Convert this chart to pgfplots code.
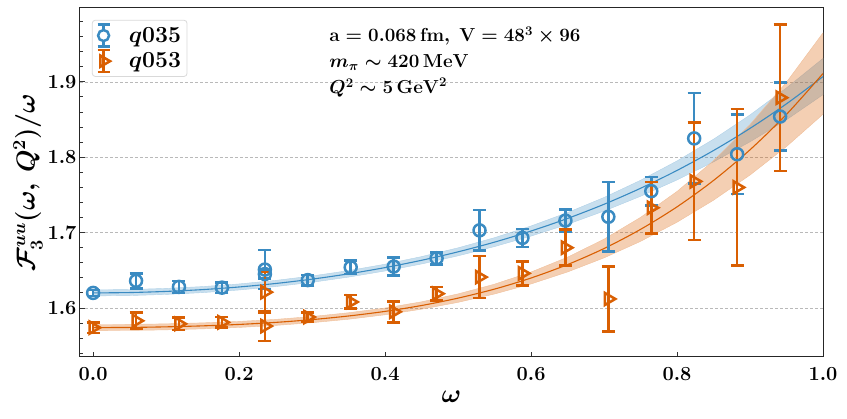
\RequirePackage{fix-cm}
\documentclass[border=0pt]{standalone}
\usepackage{amsmath,bm}
\usepackage{pgfplots}
\usepackage{pgfplotstable}
\pgfplotsset{compat=1.18}

\definecolor{cblue}{HTML}{3A8BC2}
\definecolor{corange}{HTML}{D95F02}

% q035 data: omega, value, error
\pgfplotstableread{
x y e
0.0000 1.620 0.004
0.0588 1.636 0.010
0.1176 1.628 0.008
0.1765 1.627 0.007
0.2353 1.651 0.026
0.2353 1.645 0.006
0.2941 1.637 0.007
0.3529 1.654 0.009
0.4118 1.655 0.012
0.4706 1.666 0.008
0.5294 1.703 0.027
0.5882 1.693 0.012
0.6471 1.716 0.015
0.7059 1.721 0.046
0.7647 1.755 0.019
0.8235 1.825 0.060
0.8824 1.804 0.053
0.9412 1.854 0.045
}\qblue

% q053 data
\pgfplotstableread{
x y e
0.0000 1.574 0.007
0.0588 1.583 0.011
0.1176 1.579 0.008
0.1765 1.581 0.007
0.2353 1.621 0.027
0.2353 1.576 0.020
0.2941 1.588 0.006
0.3529 1.608 0.009
0.4118 1.595 0.014
0.4706 1.619 0.009
0.5294 1.641 0.028
0.5882 1.646 0.016
0.6471 1.680 0.024
0.7059 1.612 0.043
0.7647 1.733 0.034
0.8235 1.768 0.078
0.8824 1.760 0.104
0.9412 1.879 0.097
}\qorange

% fit curves
\pgfplotstableread{
x yb yo
0.00 1.6200 1.5740
0.05 1.6205 1.5742
0.10 1.6220 1.5750
0.15 1.6244 1.5763
0.20 1.6279 1.5782
0.25 1.6325 1.5809
0.30 1.6383 1.5846
0.35 1.6453 1.5894
0.40 1.6536 1.5955
0.45 1.6633 1.6033
0.50 1.6745 1.6131
0.55 1.6874 1.6251
0.60 1.7021 1.6398
0.65 1.7188 1.6576
0.70 1.7376 1.6789
0.75 1.7588 1.7043
0.80 1.7825 1.7342
0.85 1.8089 1.7692
0.90 1.8383 1.8099
0.95 1.8709 1.8569
1.00 1.9070 1.9110
}\fits

% error bands: upper edge forward, lower edge back
\pgfplotstableread{
x y
0.00 1.6240
0.05 1.6245
0.10 1.6260
0.15 1.6284
0.20 1.6319
0.25 1.6366
0.30 1.6425
0.35 1.6496
0.40 1.6581
0.45 1.6682
0.50 1.6798
0.55 1.6933
0.60 1.7088
0.65 1.7266
0.70 1.7466
0.75 1.7694
0.80 1.7951
0.85 1.8239
0.90 1.8561
0.95 1.8920
1.00 1.9310
1.00 1.8830
0.95 1.8498
0.90 1.8205
0.85 1.7939
0.80 1.7699
0.75 1.7482
0.70 1.7286
0.65 1.7110
0.60 1.6954
0.55 1.6815
0.50 1.6692
0.45 1.6584
0.40 1.6491
0.35 1.6410
0.30 1.6341
0.25 1.6284
0.20 1.6239
0.15 1.6204
0.10 1.6180
0.05 1.6165
0.00 1.6160
}\bandblue

\pgfplotstableread{
x y
0.00 1.5780
0.05 1.5782
0.10 1.5790
0.15 1.5803
0.20 1.5822
0.25 1.5849
0.30 1.5887
0.35 1.5937
0.40 1.6000
0.45 1.6082
0.50 1.6187
0.55 1.6316
0.60 1.6477
0.65 1.6674
0.70 1.6913
0.75 1.7202
0.80 1.7546
0.85 1.7954
0.90 1.8434
0.95 1.8996
1.00 1.9650
1.00 1.8570
0.95 1.8142
0.90 1.7764
0.85 1.7430
0.80 1.7138
0.75 1.6884
0.70 1.6665
0.65 1.6478
0.60 1.6319
0.55 1.6186
0.50 1.6075
0.45 1.5984
0.40 1.5910
0.35 1.5851
0.30 1.5805
0.25 1.5769
0.20 1.5742
0.15 1.5723
0.10 1.5710
0.05 1.5702
0.00 1.5700
}\bandorange

\pgfplotsset{
  ebar/.style={
    only marks, color=#1,
    error bars/.cd, y dir=both, y explicit,
    error bar style={line width=2.6pt, color=#1},
    error mark options={rotate=90, mark size=6.5pt, line width=2.6pt, color=#1},
  },
}

\begin{document}
\begin{tikzpicture}
\path[use as bounding box] (-80pt,-62pt) rectangle (767pt,357pt);
\begin{axis}[
  scale only axis, width=743pt, height=349pt,
  xmin=-0.018, xmax=1.0, ymin=1.535, ymax=1.998,
  xtick={0,0.2,...,1.0}, ytick={1.6,1.7,1.8,1.9},
  minor ytick={1.54,1.56,...,1.98},
  xtick pos=bottom, ytick pos=left, tick align=inside,
  major tick length=5pt, minor tick length=3pt,
  tick style={black!80, line width=0.9pt},
  axis line style={black!85, line width=1pt},
  tick label style={font=\fontsize{20}{24}\selectfont\boldmath,
    /pgf/number format/fixed, /pgf/number format/fixed zerofill,
    /pgf/number format/precision=1},
  xticklabel style={yshift=-7pt},
  ymajorgrids, major grid style={gray!55, line width=0.7pt, dash pattern=on 3pt off 2pt},
  xlabel={$\omega$}, ylabel={$\mathcal{F}_3^{uu}(\omega,\, Q^2)/\omega$},
  label style={font=\fontsize{26}{30}\selectfont\boldmath},
  xlabel style={at={(axis description cs:0.5,0)}, anchor=center, yshift=-40pt},
  ylabel style={at={(axis description cs:-0.07,0.5)}, anchor=center},
  legend style={at={(0.016,0.966)}, anchor=north west,
    draw=black!15, rounded corners=3pt, fill=white, line width=0.8pt,
    font=\fontsize{23}{28}\selectfont\boldmath, row sep=1pt,
    inner xsep=4pt, inner ysep=3pt},
  legend cell align=left,
]
% bands
\addplot[fill=cblue, fill opacity=0.28, draw=cblue!40, line width=0.4pt, forget plot] table {\bandblue};
\addplot[fill=corange, fill opacity=0.3, draw=corange!40, line width=0.4pt, forget plot] table {\bandorange};
% fit lines
\addplot[cblue, line width=1.1pt, smooth, forget plot] table[x=x, y=yb] {\fits};
\addplot[corange, line width=1.1pt, smooth, forget plot] table[x=x, y=yo] {\fits};
% data
\addplot[mark=o, mark size=6pt, mark options={line width=2.5pt, solid}, forget plot, ebar=cblue] table[x=x, y=y, y error=e] {\qblue};
\addplot[mark=triangle, mark size=7pt, mark options={rotate=-90, line width=2.5pt, solid}, forget plot, ebar=corange] table[x=x, y=y, y error=e] {\qorange};
% legend
\addlegendimage{legend image code/.code={
  \draw[cblue, line width=2.6pt] (8pt,-11pt) -- (8pt,11pt);
  \draw[cblue, line width=2.6pt] (2pt,-11pt) -- (14pt,-11pt);
  \draw[cblue, line width=2.6pt] (2pt,11pt) -- (14pt,11pt);
  \draw[cblue, line width=2.5pt, fill=white] (8pt,0pt) circle (5.5pt);
}}
\addlegendentry{\hspace{16pt}$q035$}
\addlegendimage{legend image code/.code={
  \draw[corange, line width=2.6pt] (8pt,-11pt) -- (8pt,11pt);
  \draw[corange, line width=2.6pt] (2pt,-11pt) -- (14pt,-11pt);
  \draw[corange, line width=2.6pt] (2pt,11pt) -- (14pt,11pt);
  \draw[corange, line width=2.5pt] plot[mark=triangle, mark size=6.5pt, mark options={rotate=-90}] coordinates {(8pt,0pt)};
}}
\addlegendentry{\hspace{16pt}$q053$}
\node[anchor=north west, align=left, font=\fontsize{18.8}{26}\selectfont\boldmath]
  at (rel axis cs:0.331,0.957)
  {$\mathrm{a = 0.068\,fm,\ V = 48^3\times 96}$\\
   $m_\pi \sim 420\,\mathrm{MeV}$\\
   $Q^2 \sim 5\,\mathrm{GeV}^2$};
\end{axis}
\end{tikzpicture}
\end{document}
